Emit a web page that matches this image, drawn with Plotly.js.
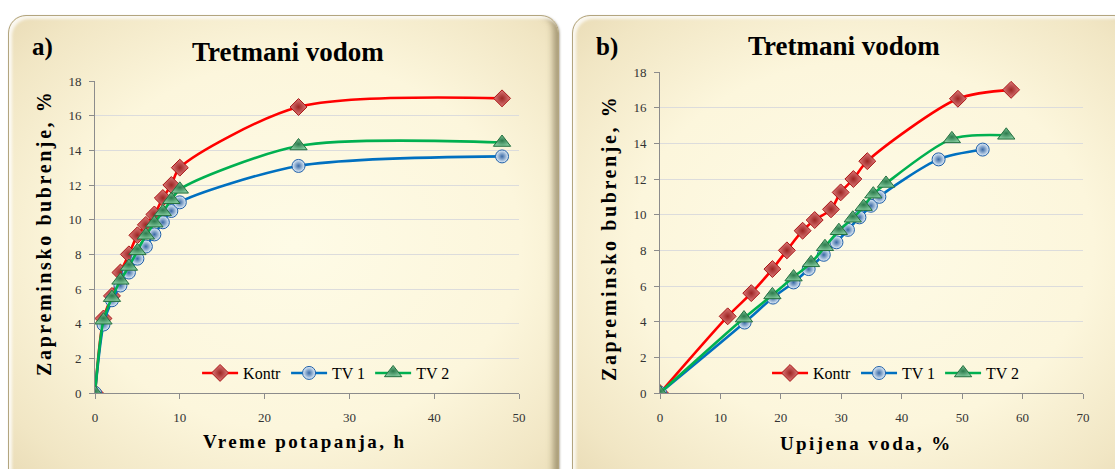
<!DOCTYPE html>
<html>
<head>
<meta charset="utf-8">
<script src="https://cdn.plot.ly/plotly-3.0.1.min.js"></script>
<style>
  html, body { margin:0; padding:0; background:#ffffff; width:1115px; height:469px; overflow:hidden; }
  .panel {
    position:absolute; top:15px; height:480px; border-radius:18px; box-sizing:border-box;
    border:1px solid #b3a57f;
    background: radial-gradient(ellipse 75% 70% at 52% 48%, #fefbe6 0%, #fcf6dc 55%, #f1e6c4 85%, #e8dab4 100%);
    box-shadow: inset 3px 3px 3px rgba(255,255,255,0.8), inset -5px -3px 6px rgba(110,95,60,0.55), 1px 1px 2px rgba(120,110,90,0.5);
    overflow:hidden;
  }
  #pa { left:8px; width:551px; }
  #pb { left:572px; width:560px; }
  .plot { position:absolute; left:0; top:0; }
</style>
</head>
<body>
<div class="panel" id="pa"><div class="plot" id="ga"></div></div>
<div class="panel" id="pb"><div class="plot" id="gb"></div></div>
<script>
// ---- data ----
const timeH = [0, 1, 2, 3, 4, 5, 6, 7, 8, 9, 10, 24, 48];
const kontrSwell = [0, 4.3, 5.6, 6.95, 8.0, 9.1, 9.7, 10.3, 11.25, 12.0, 13.0, 16.5, 17.0];
const tv1Swell   = [0, 3.95, 5.35, 6.2, 6.95, 7.75, 8.45, 9.15, 9.85, 10.5, 11.0, 13.1, 13.65];
const tv2Swell   = [0, 4.2, 5.5, 6.5, 7.3, 8.2, 9.1, 9.8, 10.45, 11.15, 11.75, 14.25, 14.45];
const kontrWater = [0, 11.2, 15.1, 18.6, 21.0, 23.6, 25.6, 28.3, 29.9, 32.0, 34.3, 49.3, 58.1];
const tv1Water   = [0, 14.0, 18.7, 22.1, 24.6, 27.1, 29.2, 31.1, 33.0, 34.9, 36.3, 46.1, 53.4];
const tv2Water   = [0, 13.9, 18.6, 22.1, 25.0, 27.3, 29.6, 31.9, 33.7, 35.3, 37.4, 48.3, 57.3];
const seriesNames = ["Kontr", "TV 1", "TV 2"];
const chartTitle = "Tretmani vodom";
const yTitle = "Zapreminsko bubrenje, %";
const xTitleA = "Vreme potapanja, h";
const xTitleB = "Upijena voda, %";

const serif = "Liberation Serif, Times New Roman, serif";

const styles = [
  {line:'#ff0000', sym:'diamond', size:13, fill:'#de7a7a', edge:'#9c2624', border:'#a81616'},
  {line:'#0070c0', sym:'circle', size:13, fill:'#e4f0fa', edge:'#3a6aa6', border:'#1f5fa8'},
  {line:'#00b050', sym:'triangle-up', size:15, fill:'#7fc79a', edge:'#2c7a4c', border:'#24703f'}
];

function makeTraces(xs, ys) {
  return xs.map((x, i) => ({
    type:'scatter', mode:'lines+markers', name: seriesNames[i],
    x: x, y: ys[i],
    line:{color: styles[i].line, width:2.6, shape:'spline', smoothing:0.8},
    marker:{symbol: styles[i].sym, size: styles[i].size, color: styles[i].fill,
            gradient:{type:'radial', color: styles[i].edge},
            line:{color: styles[i].border, width:1}}
  }));
}

function axisBase() {
  return {
    showline:true, linecolor:'#8c8c8c', linewidth:1,
    ticks:'outside', ticklen:5, tickcolor:'#8c8c8c',
    tickfont:{family:serif, size:13, color:'#333333'},
    zeroline:false
  };
}

function makeLayout(o) {
  const xa = Object.assign(axisBase(), {range:o.xrange, dtick:10, tick0:0, showgrid:false, ticklabelstandoff:7});
  const ya = Object.assign(axisBase(), {range:[0,18], dtick:2, tick0:0, showgrid:true, gridcolor:'#dcdcdc', gridwidth:1, ticklabelstandoff:5});
  return {
    width:o.w, height:454,
    margin:o.margin,
    paper_bgcolor:'rgba(0,0,0,0)', plot_bgcolor:'rgba(0,0,0,0)',
    showlegend:true,
    legend:{orientation:'h', x:o.legx, y:o.legy, xanchor:'center', yanchor:'middle',
            bgcolor:'rgba(0,0,0,0)', font:{family:serif, size:16, color:'#000'}, itemwidth:36, tracegroupgap:0},
    title:{text:chartTitle, font:{family:serif, size:27, color:'#000', weight:'bold'},
           xref:'container', yref:'container', x:o.tx, y:o.ty, xanchor:'center', yanchor:'middle'},
    xaxis: xa, yaxis: ya,
    annotations:[
      {text:o.label, xref:'paper', yref:'paper', x:o.lx, y:o.ly, showarrow:false,
       font:{family:serif, size:25, color:'#000', weight:'bold'}, xanchor:'center', yanchor:'middle'},
      {text:'<span style="letter-spacing:2.6px">'+yTitle+'</span>', xref:'paper', yref:'paper', x:o.yx, y:o.yy, textangle:-90, showarrow:false,
       font:{family:serif, size:20, color:'#000', weight:'bold'}, xanchor:'center', yanchor:'middle'},
      {text:'<span style="letter-spacing:2.4px">'+o.xtitle+'</span>', xref:'paper', yref:'paper', x:o.xx, y:o.xy, showarrow:false,
       font:{family:serif, size:19, color:'#000', weight:'bold'}, xanchor:'center', yanchor:'middle'}
    ]
  };
}

const cfg = {displayModeBar:false, staticPlot:true};

Plotly.newPlot('ga', makeTraces([timeH, timeH, timeH], [kontrSwell, tv1Swell, tv2Swell]),
  makeLayout({w:550, margin:{l:86, r:40, t:65, b:77, pad:0}, xrange:[0,50],
    legx:0.545, legy:0.064, tx:0.507, ty:0.921, label:'a)', lx:-0.123, ly:1.109,
    yx:-0.118, yy:0.513, xtitle:xTitleA, xx:0.493, xy:-0.154}), cfg);

Plotly.newPlot('gb', makeTraces([kontrWater, tv1Water, tv2Water], [kontrSwell, tv1Swell, tv2Swell]),
  makeLayout({w:543, margin:{l:87, r:33, t:56, b:77, pad:0}, xrange:[0,70],
    legx:0.558, legy:0.062, tx:0.499, ty:0.934, label:'b)', lx:-0.125, ly:1.079,
    yx:-0.118, yy:0.483, xtitle:xTitleB, xx:0.487, xy:-0.156}), cfg);
</script>
</body>
</html>
